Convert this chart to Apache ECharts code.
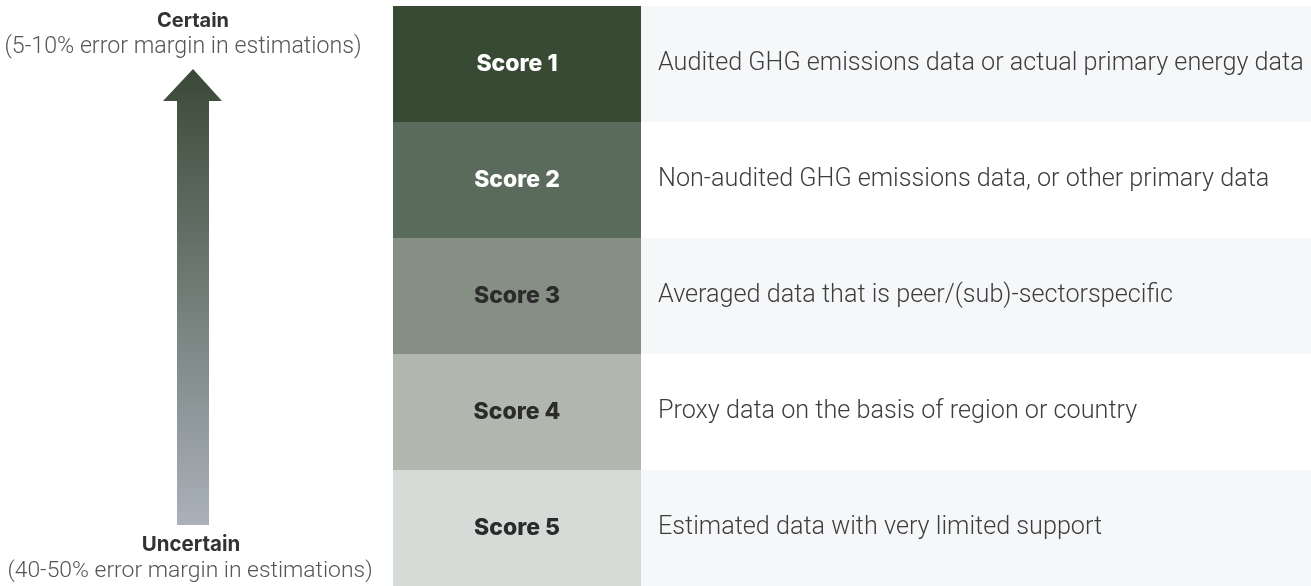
<!DOCTYPE html>
<html>
<head>
<meta charset="utf-8">
<script src="https://cdn.jsdelivr.net/npm/echarts@6/dist/echarts.min.js"></script>
<style>
    html, body { margin: 0; padding: 0; background: #fff; }
    #chart { width: 1311px; height: 586px; }
</style>
</head>
<body>
<div id="chart"></div>
<script>
const scores = ["Score 1", "Score 2", "Score 3", "Score 4", "Score 5"]
const descriptions = [
    "Audited GHG emissions data or actual primary energy data",
    "Non-audited GHG emissions data, or other primary data",
    "Averaged data that is peer/(sub)-sectorspecific",
    "Proxy data on the basis of region or country",
    "Estimated data with very limited support",
]
const scoreColors = ["#384a33", "#5a6b5b", "#868f84", "#b1b7af", "#d7dbd8"]
const scoreTextColors = ["#ffffff", "#ffffff", "#2b2b2b", "#2b2b2b", "#2b2b2b"]
const rowColors = ["#f6f7f9", "#ffffff", "#f6f7f9", "#ffffff", "#f6f7f9"]
const topLabel = ["Certain", "(5-10% error margin in estimations)"]
const bottomLabel = ["Uncertain", "(40-50% error margin in estimations)"]

const chart = echarts.init(document.querySelector("#chart"))

const rowAxis = (gridIndex) => ({
    type: "category",
    gridIndex: gridIndex,
    data: scores,
    inverse: true,
    show: false,
})

const colAxis = (gridIndex) => ({
    type: "value",
    gridIndex: gridIndex,
    min: 0,
    max: 1,
    show: false,
})

const option = {
    animation: false,
    textStyle: { fontFamily: "Roboto" },
    grid: [
        { left: 393, width: 248, top: 6, bottom: 0 },
        { left: 641, right: 0, top: 6, bottom: 0 },
    ],
    xAxis: [colAxis(0), colAxis(1)],
    yAxis: [rowAxis(0), rowAxis(1)],
    series: [
        {
            type: "bar",
            xAxisIndex: 0,
            yAxisIndex: 0,
            barWidth: "100%",
            data: scores.map((s, i) => ({
                value: 1,
                itemStyle: { color: scoreColors[i] },
                label: { color: scoreTextColors[i] },
            })),
            label: {
                show: true,
                position: "inside",
                formatter: (p) => scores[p.dataIndex],
                fontFamily: "Inter",
                fontWeight: 800,
                fontSize: 23,
            },
        },
        {
            type: "bar",
            xAxisIndex: 1,
            yAxisIndex: 1,
            barWidth: "100%",
            data: descriptions.map((d, i) => ({
                value: 1,
                itemStyle: { color: rowColors[i] },
            })),
            label: {
                show: true,
                position: "insideLeft",
                distance: 17,
                formatter: (p) => descriptions[p.dataIndex],
                color: "#3d3d3d",
                fontWeight: 300,
                fontSize: 25.2,
            },
        },
    ],
    graphic: [
        {
            type: "polygon",
            shape: {
                points: [
                    [193, 69], [222, 101], [209, 101], [209, 525],
                    [177, 525], [177, 101], [163, 101],
                ],
            },
            style: {
                fill: new echarts.graphic.LinearGradient(0, 0, 0, 1, [
                    { offset: 0, color: "#3a4936" },
                    { offset: 1, color: "#aab1ba" },
                ]),
            },
        },
        {
            type: "text", x: 193, y: 21,
            style: { text: topLabel[0], fontFamily: "Inter", fontWeight: "bold", fontSize: 20,
                fill: "#333", align: "center", verticalAlign: "middle" },
        },
        {
            type: "text", x: 183, y: 47,
            style: { text: topLabel[1], fontFamily: "Roboto", fontWeight: 300, fontSize: 23.2,
                fill: "#555", align: "center", verticalAlign: "middle" },
        },
        {
            type: "text", x: 191, y: 545,
            style: { text: bottomLabel[0], fontFamily: "Inter", fontWeight: "bold", fontSize: 20.5,
                fill: "#333", align: "center", verticalAlign: "middle" },
        },
        {
            type: "text", x: 190, y: 571,
            style: { text: bottomLabel[1], fontFamily: "Roboto", fontWeight: 300, fontSize: 22.9,
                fill: "#555", align: "center", verticalAlign: "middle" },
        },
    ],
}

chart.setOption(option)
</script>
</body>
</html>
